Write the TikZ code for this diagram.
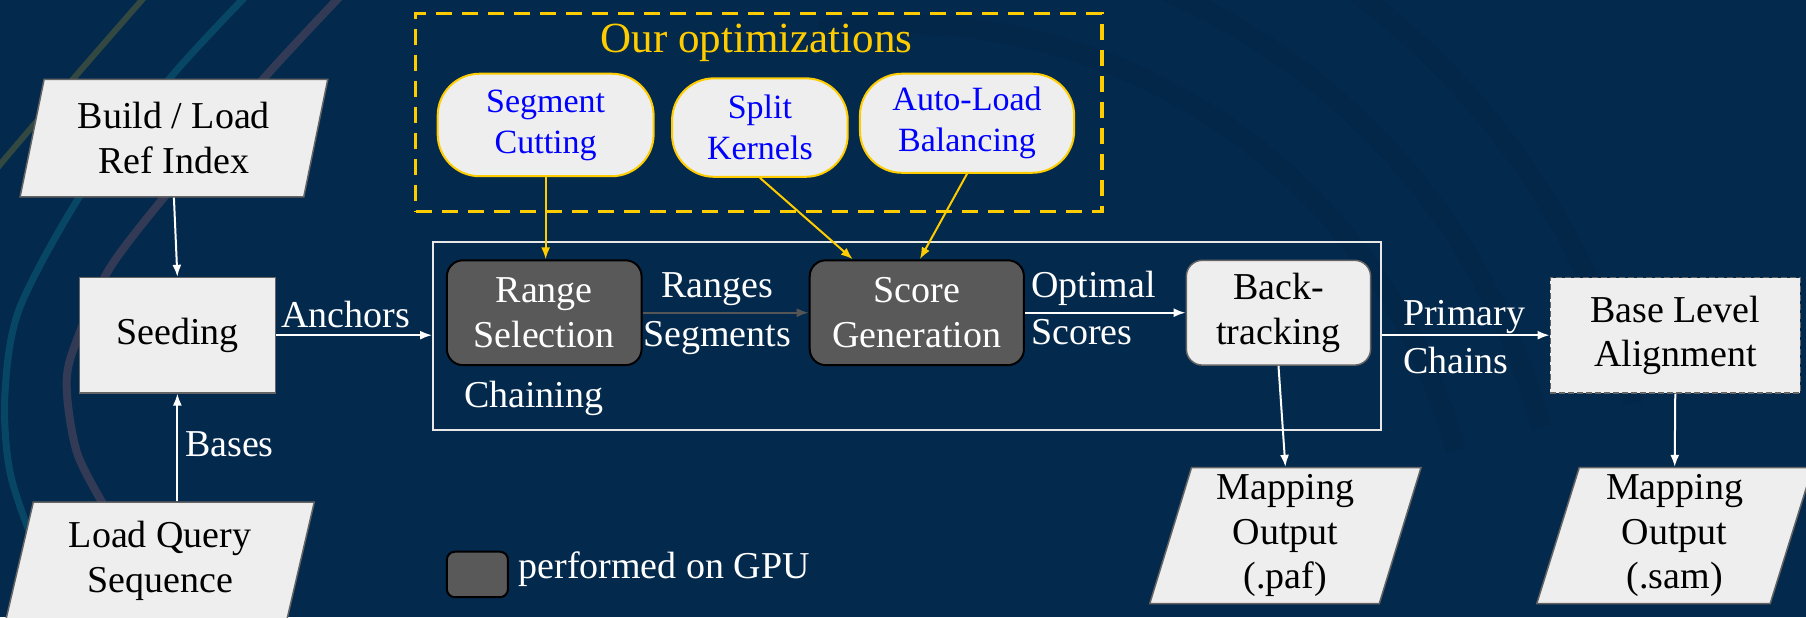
\documentclass[tikz,border=0pt]{standalone}
\usepackage{fontspec}
\setmainfont{Liberation Serif}
\usetikzlibrary{shapes.geometric,arrows.meta,calc}

\definecolor{navy}{RGB}{3,41,77}
\definecolor{navydark}{RGB}{1,35,67}
\definecolor{boxfill}{RGB}{238,238,238}
\definecolor{gpufill}{RGB}{89,89,89}
\definecolor{optyellow}{RGB}{255,204,0}
\definecolor{optblue}{RGB}{0,0,255}
\definecolor{edgegray}{RGB}{100,100,100}
\definecolor{flowgray}{RGB}{85,85,85}
\definecolor{framewhite}{RGB}{232,232,232}
\definecolor{arcgray}{RGB}{60,62,88}
\definecolor{arcteal}{RGB}{10,78,108}
\definecolor{arcolive}{RGB}{64,80,62}

% one unit = one pixel of the drawing grid
\def\pxu{1.1518pt}

\begin{document}
\begin{tikzpicture}[x=\pxu, y=-\pxu,
  every node/.style={font=\fontsize{38}{44.5}\selectfont, inner sep=0pt},
  lightbox/.style={draw=edgegray, line width=1.5pt, fill=boxfill, text=black, align=center},
  gpubox/.style={draw=black, line width=2pt, fill=gpufill, text=white, align=center, rounded corners=16pt},
  optbox/.style={draw=optyellow, line width=2pt, fill=boxfill, text=optblue, align=center,
                 rounded corners=42pt, font=\fontsize{34}{41}\selectfont},
  iobox/.style={lightbox, trapezium, trapezium left angle=76, trapezium right angle=104,
                trapezium stretches=true},
  lbl/.style={text=white},
  flow/.style={draw=white, line width=2pt, -{Latex[length=12pt,width=9pt]}},
  optflow/.style={draw=optyellow, line width=2pt, -{Latex[length=12pt,width=9pt]}},
  bgband/.style={navydark, line width=20pt, opacity=0.3},
]

% background
\fill[navy] (0,0) rectangle (1568,536);
\useasboundingbox (0,0) rectangle (1568,536);
\begin{scope}
  \clip (0,0) rectangle (1568,536);
  % faint concentric bands on the right
  \draw[bgband] (781,521) ++(262:500) arc[start angle=262, end angle=345, radius=500];
  \draw[bgband] (781,521) ++(268:577) arc[start angle=268, end angle=345, radius=577];
  \draw[bgband] (781,521) ++(272:660) arc[start angle=272, end angle=345, radius=660];
  % coloured sweeps on the left
  \draw[arcolive, line width=6pt, opacity=0.8]
    plot[smooth] coordinates {(127.6,-5) (66.6,65) (0,143) (-20,170)};
  \draw[arcteal, line width=7pt, opacity=0.8]
    plot[smooth] coordinates {(215,-5) (150,65) (75.5,160.6) (17.4,266.5) (4.3,342) (8.7,410) (32,478.5) (60,540)};
  \draw[arcgray, line width=8pt, opacity=0.85]
    plot[smooth] coordinates {(297,-5) (231.8,65) (162.4,147) (95.5,232.5) (62.5,307) (58.2,342) (66.9,393) (89.4,437.5) (115,480)};
\end{scope}

% optimisation group
\node[draw=optyellow, line width=3.5pt, dash pattern=on 16pt off 10pt,
      minimum width=595.8*\pxu, minimum height=171.9*\pxu] (opt) at (658.7,97.55) {};
\node[text=optyellow, anchor=base, font=\fontsize{43}{50}\selectfont] (title) at (657,46) {Our optimizations};
\node[optbox, minimum width=187.5*\pxu, minimum height=89*\pxu] (sc) at (473.75,108.5) {Segment\\Cutting};
\node[optbox, minimum width=152.5*\pxu, minimum height=85.5*\pxu] (sk) at (659.75,110.75) {Split\\Kernels};
\node[optbox, minimum width=186*\pxu, minimum height=86*\pxu] (al) at (839.6,107) {Auto-Load\\Balancing};

% inputs and seeding
\node[iobox, minimum width=268*\pxu, minimum height=102*\pxu] (bl) at (151,120) {Build / Load\\Ref Index};
\node[lightbox, minimum width=170*\pxu, minimum height=100*\pxu] (seed) at (154,291) {Seeding};
\node[iobox, minimum width=268*\pxu, minimum height=102*\pxu] (lq) at (139,487) {Load Query\\Sequence};

% chaining stage
\node[draw=framewhite, line width=2pt, minimum width=823*\pxu, minimum height=163.5*\pxu] (chain) at (787.5,291.75) {};
\node[gpubox, minimum width=169*\pxu, minimum height=91*\pxu] (rs) at (472.5,271.5) {Range\\Selection};
\node[gpubox, minimum width=186*\pxu, minimum height=91*\pxu] (sg) at (796,271.5) {Score\\Generation};
\node[lightbox, rounded corners=16pt, minimum width=160*\pxu, minimum height=91*\pxu] (bt) at (1110,271.5) {Back-\\tracking};
\node[lbl, anchor=base west] (chainlbl) at (402.7,354) {Chaining};

% alignment and outputs
\node[lightbox, dash pattern=on 6pt off 3pt, minimum width=217*\pxu, minimum height=100*\pxu] (bla) at (1454.5,291) {Base Level\\Alignment};
\node[iobox, minimum width=236*\pxu, minimum height=118*\pxu] (paf) at (1116,465) {Mapping\\Output\\(.paf)};
\node[iobox, minimum width=240*\pxu, minimum height=118*\pxu] (sam) at (1454,465) {Mapping\\Output\\(.sam)};

% legend
\node[gpubox, rounded corners=8pt, minimum width=53*\pxu, minimum height=39.5*\pxu] (gpukey) at (414.5,498.75) {};
\node[lbl, anchor=base west] (gpukeytext) at (450,502) {performed on GPU};

% edge labels
\node[lbl, anchor=base] (anch) at (300,284) {Anchors};
\node[lbl, anchor=base west] (bases) at (160.5,396.5) {Bases};
\node[lbl, anchor=base] (rng) at (622.5,258) {Ranges};
\node[lbl, anchor=base] (segs) at (622.5,301) {Segments};
\node[lbl, anchor=base west] (optl) at (895,258) {Optimal};
\node[lbl, anchor=base west] (scl) at (895,299) {Scores};
\node[lbl, anchor=base west] (pri) at (1218,283) {Primary};
\node[lbl, anchor=base west] (chl) at (1218,324.5) {Chains};

% connectors
\draw[flow] (bl.center |- bl.south) -- (seed.north);
\draw[flow] (seed.south |- lq.north) -- (seed.south);
\draw[flow] (seed.east) -- (seed.east -| chain.west);
\draw[optflow] (sc.south) -- (sc.south |- rs.north);
\draw[optflow] (sk.south) -- ($(sg.north west)!0.204!(sg.north east)$);
\draw[optflow] (al.south) -- ($(sg.north west)!0.514!(sg.north east)$);
\draw[flow, draw=flowgray, -{Latex[length=12pt,width=9pt,fill=flowgray]}] (rs.east) -- (sg.west);
\draw[flow] (sg.east) -- (bt.west);
\draw[flow] (bla.west -| chain.east) -- (bla.west);
\draw[flow] (bt.south) -- (paf.center |- paf.north);
\draw[flow] (bla.south) -- (sam.center |- sam.north);

\end{tikzpicture}
\end{document}
